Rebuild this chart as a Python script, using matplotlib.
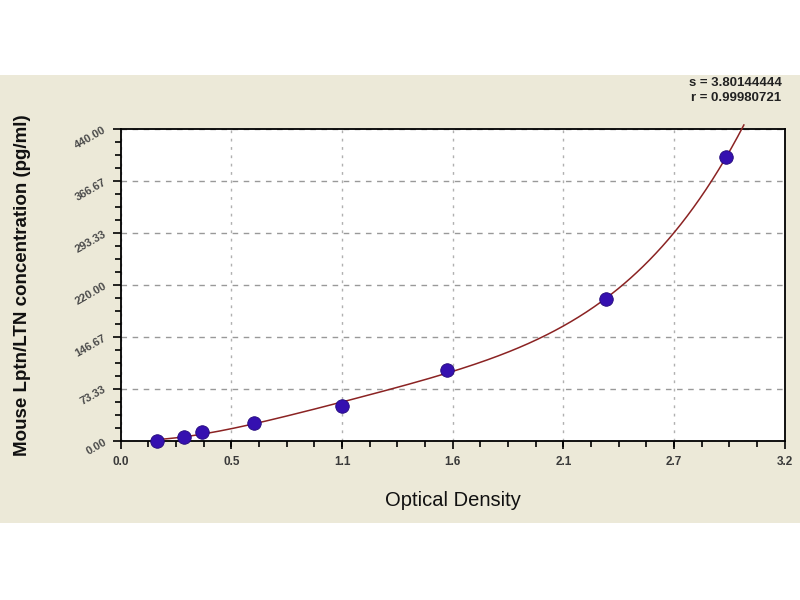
import numpy as np
import matplotlib
matplotlib.use("Agg")
from matplotlib import pyplot as plt
from matplotlib.patches import Rectangle
from matplotlib.ticker import MultipleLocator

# standard points
od = [0.173, 0.303, 0.39, 0.64, 1.068, 1.574, 2.339, 2.916]
conc = [0.0, 6.25, 12.5, 25.0, 50.0, 100.0, 200.0, 400.0]

x_ticks = [0.0, 0.5333, 1.0667, 1.6, 2.1333, 2.6667, 3.2]
x_labels = ['0.0', '0.5', '1.1', '1.6', '2.1', '2.7', '3.2']
y_ticks = [0.0, 73.33, 146.67, 220.0, 293.33, 366.67, 440.0]
y_labels = ['0.00', '73.33', '146.67', '220.00', '293.33', '366.67', '440.00']

fit_text = ['s = 3.80144444', 'r = 0.99980721']

beige = '#ece9d8'

plt.rcParams['font.family'] = ['Liberation Sans', 'DejaVu Sans']

fig = plt.figure(figsize=(8, 6), dpi=100)
fig.patch.set_facecolor('white')
band = Rectangle((0, 0.128), 1, 0.747, transform=fig.transFigure,
                 facecolor=beige, edgecolor='none', zorder=-10)
fig.add_artist(band)

ax = fig.add_axes([0.151, 0.265, 0.830, 0.520])
ax.set_facecolor('white')

# fitted standard curve through the standards
coef = np.polyfit(od, conc, 4)
xs = np.linspace(od[0], 3.2, 400)
ys = np.polyval(coef, xs)
keep = ys <= 448
ax.plot(xs[keep], ys[keep], color='#8b2323', lw=1.1, zorder=3, clip_on=False)

ax.scatter(od, conc, s=95, color='#3510b0', edgecolors='#22087a',
           linewidths=0.6, zorder=4, clip_on=False)

ax.set_xlim(0, 3.2)
ax.set_ylim(0, 440)
ax.set_xticks(x_ticks)
ax.set_xticklabels(x_labels)
ax.set_yticks(y_ticks)
ax.set_yticklabels(y_labels, rotation=30, ha='right', va='center',
                   rotation_mode='anchor')
ax.xaxis.set_minor_locator(MultipleLocator(3.2 / 24))
ax.yaxis.set_minor_locator(MultipleLocator(440 / 24))

ax.tick_params(which='both', direction='out', color='black', width=1.2)
ax.tick_params(which='major', length=6)
ax.tick_params(which='minor', length=4)
ax.tick_params(axis='x', labelsize=8.5, labelcolor='#3a3a3a', pad=5)
ax.tick_params(axis='y', labelsize=8, labelcolor='#4a4a4a', pad=5)
for lab in ax.get_xticklabels() + ax.get_yticklabels():
    lab.set_fontweight('bold')

ax.grid(axis='y', which='major', color='#999999', ls=(0, (4, 4)), lw=1.0)
ax.grid(axis='x', which='major', color='#b0b0b0', ls=(0, (2, 4)), lw=1.0)

for sp in ax.spines.values():
    sp.set_linewidth(1.3)
    sp.set_color('black')

ax.set_xlabel('Optical Density', fontsize=14.5, color='#111111', labelpad=16)
ax.set_ylabel('Mouse Lptn/LTN concentration (pg/ml)', fontsize=13.5,
              color='#111111', fontweight='bold')
ax.yaxis.set_label_coords(-0.135, 0.5)

fig.text(0.977, 0.862, fit_text[0], ha='right', va='center', fontsize=9.5,
         color='#222222', fontweight='bold')
fig.text(0.977, 0.836, fit_text[1], ha='right', va='center', fontsize=9.5,
         color='#222222', fontweight='bold')

fig.savefig('out.png', dpi=100, facecolor=fig.get_facecolor())
